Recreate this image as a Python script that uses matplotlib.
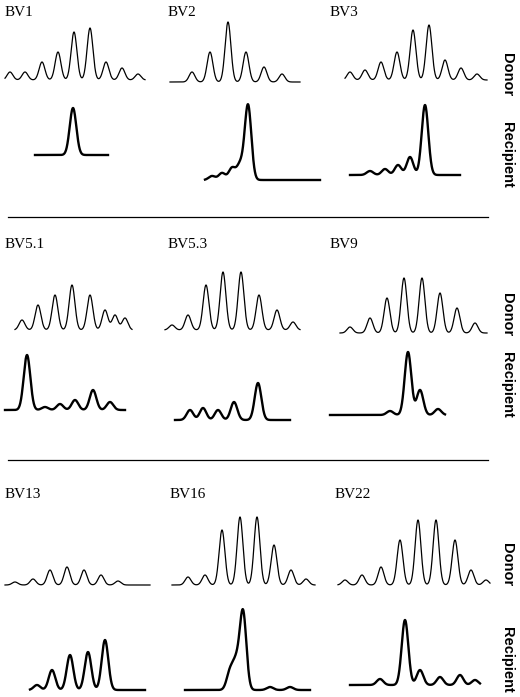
import numpy as np
import matplotlib
matplotlib.use("Agg")
import matplotlib.pyplot as plt

W, H = 520, 697
names = [["BV1", "BV2", "BV3"], ["BV5.1", "BV5.3", "BV9"], ["BV13", "BV16", "BV22"]]

donor_pos = [
    [10, 25, 42, 58, 74, 90, 106, 122, 138],
    [192, 210, 228, 246, 264, 282],
    [350, 365, 381, 397, 413, 429, 445, 461, 477],
    [22, 38, 55, 72, 90, 105, 115, 125],
    [172, 188, 206, 223, 241, 259, 277, 293],
    [350, 370, 387, 404, 422, 440, 457, 475],
    [15, 33, 50, 67, 84, 101, 118],
    [188, 205, 222, 240, 257, 274, 291, 306],
    [345, 362, 381, 400, 418, 436, 455, 471, 486],
]
donor_h = [
    [8, 8, 18, 28, 48, 52, 18, 12, 6],
    [10, 30, 60, 30, 15, 8],
    [8, 10, 18, 28, 50, 55, 20, 12, 6],
    [10, 25, 35, 45, 35, 20, 15, 12],
    [5, 15, 45, 58, 58, 35, 20, 8],
    [6, 15, 35, 55, 55, 40, 25, 10],
    [3, 6, 15, 18, 15, 10, 4],
    [8, 10, 55, 68, 68, 40, 15, 6],
    [5, 10, 18, 45, 65, 65, 45, 15, 5],
]
recip_pos = [
    [73],
    [212, 222, 232, 240, 248],
    [370, 385, 398, 410, 425],
    [27, 45, 60, 75, 93, 110],
    [190, 203, 218, 234, 258],
    [390, 408, 420, 438],
    [37, 52, 70, 88, 105],
    [230, 236, 243, 270, 290],
    [380, 405, 420, 440, 460, 475],
]
recip_h = [
    [47],
    [4, 7, 12, 15, 75],
    [4, 6, 10, 18, 70],
    [55, 3, 6, 10, 20, 8],
    [10, 12, 10, 18, 37],
    [4, 63, 25, 6],
    [5, 20, 35, 38, 50],
    [18, 25, 78, 3, 3],
    [6, 65, 15, 8, 10, 5],
]

donor_base = [80, 82, 80, 330, 330, 333, 585, 585, 585]
donor_x = [(5, 145), (170, 300), (345, 487), (15, 132), (165, 300), (340, 487), (5, 150), (172, 315), (338, 490)]
recip_base = [155, 180, 175, 410, 420, 415, 690, 690, 685]
recip_x = [(35, 108), (205, 320), (350, 460), (5, 125), (175, 290), (330, 445), (30, 145), (185, 310), (350, 480)]

fig = plt.figure(figsize=(W / 100, H / 100), dpi=100)
ax = fig.add_axes([0, 0, 1, 1])
ax.set_xlim(0, W)
ax.set_ylim(H, 0)
ax.axis("off")

def trace(x0, x1, pos, hts, base, sig, lw):
    x = np.linspace(x0, x1, 800)
    y = np.zeros_like(x)
    for p, h in zip(pos, hts):
        y += h * np.exp(-0.5 * ((x - p) / sig) ** 2)
    ax.plot(x, base - y, color="black", lw=lw)

for i in range(9):
    trace(*donor_x[i], donor_pos[i], donor_h[i], donor_base[i], 2.9, 0.9)
    trace(*recip_x[i], recip_pos[i], recip_h[i], recip_base[i], 3.3, 1.7)

label_x = [[5, 168, 330], [5, 168, 330], [5, 170, 335]]
label_y = [12, 245, 495]
for r in range(3):
    for c in range(3):
        ax.text(label_x[r][c], label_y[r], names[r][c], family="Liberation Serif",
                fontsize=11, va="center", ha="left")

donor_ly = [75, 315, 565]
recip_ly = [155, 385, 660]
for r in range(3):
    ax.text(507, donor_ly[r], "Donor", rotation=-90, fontweight="bold", fontsize=10.5,
            family="Liberation Sans", va="center", ha="center")
    ax.text(507, recip_ly[r], "Recipient", rotation=-90, fontweight="bold", fontsize=10.5,
            family="Liberation Sans", va="center", ha="center")

for yy in [217, 460]:
    ax.plot([8, 488], [yy, yy], color="black", lw=0.9)

fig.savefig("out.png", dpi=100)
